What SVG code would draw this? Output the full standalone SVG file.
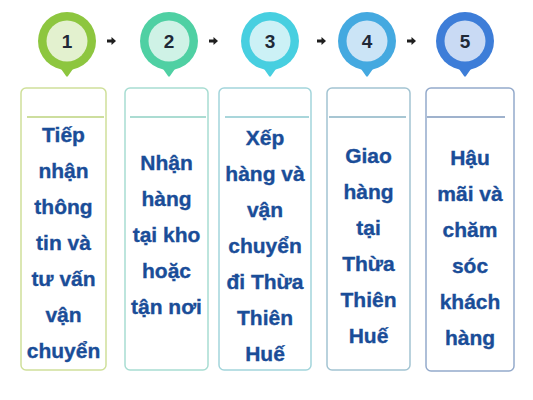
<svg xmlns="http://www.w3.org/2000/svg" width="533" height="400" viewBox="0 0 533 400">
<style>
.num{font-family:"Liberation Sans",Arial,sans-serif;font-weight:bold;font-size:19px;fill:#1f2937;text-anchor:middle}
.lbl{font-family:"Liberation Sans",Arial,sans-serif;font-weight:bold;font-size:21px;fill:#1a4d98;stroke:#1a4d98;stroke-width:0.35;text-anchor:middle}
.box{fill:#fff;stroke-width:1.5}
.div{stroke-width:1.5}
.arr{fill:#1f1f1f}
</style>
<defs>
<path id="arrow" d="M0,-1.5 L4.5,-1.5 L4.5,-4 L9,0 L4.5,4 L4.5,1.5 L0,1.5 Z"/>
</defs>
<rect width="533" height="400" fill="#fff"/>
<g id="connectors">
<use class="arr" href="#arrow" x="107" y="41"/>
<use class="arr" href="#arrow" x="209" y="41"/>
<use class="arr" href="#arrow" x="317" y="41"/>
<use class="arr" href="#arrow" x="407" y="41"/>
</g>
<g id="node1">
<path d="M59,66 L75,66 L68,76 Q67,77.5 66,76 Z" fill="#8dc63f"/>
<circle cx="67" cy="41" r="29" fill="#8dc63f"/>
<circle cx="67" cy="41" r="20.5" fill="#e3f1cf"/>
<text class="num" x="67" y="48">1</text>
<rect class="box" x="21" y="88" width="85" height="282" rx="5" stroke="#cfe09a"/>
<line class="div" x1="27" y1="117" x2="104" y2="117" stroke="#bcd37e"/>
<text class="lbl"><tspan x="63.5" y="142">Tiếp</tspan><tspan x="63.5" y="178">nhận</tspan><tspan x="63.5" y="214">thông</tspan><tspan x="63.5" y="250">tin và</tspan><tspan x="63.5" y="286">tư vấn</tspan><tspan x="63.5" y="322">vận</tspan><tspan x="63.5" y="358">chuyển</tspan></text>
</g>
<g id="node2">
<path d="M161,66 L177,66 L170,76 Q169,77.5 168,76 Z" fill="#4fd0a3"/>
<circle cx="169" cy="41" r="29" fill="#4fd0a3"/>
<circle cx="169" cy="41" r="20.5" fill="#cff2e6"/>
<text class="num" x="169" y="48">2</text>
<rect class="box" x="125" y="88" width="83" height="282" rx="5" stroke="#a8ddd2"/>
<line class="div" x1="130" y1="117" x2="206" y2="117" stroke="#8fd0c3"/>
<text class="lbl"><tspan x="166.5" y="170">Nhận</tspan><tspan x="166.5" y="206">hàng</tspan><tspan x="166.5" y="242">tại kho</tspan><tspan x="166.5" y="278">hoặc</tspan><tspan x="166.5" y="314">tận nơi</tspan></text>
</g>
<g id="node3">
<path d="M262,66 L278,66 L271,76 Q270,77.5 269,76 Z" fill="#47cfe0"/>
<circle cx="270" cy="41" r="29" fill="#47cfe0"/>
<circle cx="270" cy="41" r="20.5" fill="#ccf1f6"/>
<text class="num" x="270" y="48">3</text>
<rect class="box" x="219" y="88" width="92" height="282" rx="5" stroke="#a3d5db"/>
<line class="div" x1="225" y1="117" x2="309" y2="117" stroke="#8cc8cf"/>
<text class="lbl"><tspan x="265" y="145">Xếp</tspan><tspan x="265" y="181">hàng và</tspan><tspan x="265" y="217">vận</tspan><tspan x="265" y="253">chuyển</tspan><tspan x="265" y="289">đi Thừa</tspan><tspan x="265" y="325">Thiên</tspan><tspan x="265" y="361">Huế</tspan></text>
</g>
<g id="node4">
<path d="M359,66 L375,66 L368,76 Q367,77.5 366,76 Z" fill="#44a9e0"/>
<circle cx="367" cy="41" r="29" fill="#44a9e0"/>
<circle cx="367" cy="41" r="20.5" fill="#cbe4f6"/>
<text class="num" x="367" y="48">4</text>
<rect class="box" x="327" y="88" width="83" height="282" rx="5" stroke="#a3c4d2"/>
<line class="div" x1="329" y1="117" x2="406" y2="117" stroke="#8ab3c4"/>
<text class="lbl"><tspan x="368.5" y="163">Giao</tspan><tspan x="368.5" y="199">hàng</tspan><tspan x="368.5" y="235">tại</tspan><tspan x="368.5" y="271">Thừa</tspan><tspan x="368.5" y="307">Thiên</tspan><tspan x="368.5" y="343">Huế</tspan></text>
</g>
<g id="node5">
<path d="M457,66 L473,66 L466,76 Q465,77.5 464,76 Z" fill="#3d7dd8"/>
<circle cx="465" cy="41" r="29" fill="#3d7dd8"/>
<circle cx="465" cy="41" r="20.5" fill="#c9daf4"/>
<text class="num" x="465" y="48">5</text>
<rect class="box" x="426" y="88" width="88" height="283" rx="5" stroke="#94aacb"/>
<line class="div" x1="427" y1="117" x2="505" y2="117" stroke="#7f98bd"/>
<text class="lbl"><tspan x="470" y="165">Hậu</tspan><tspan x="470" y="201">mãi và</tspan><tspan x="470" y="237">chăm</tspan><tspan x="470" y="273">sóc</tspan><tspan x="470" y="309">khách</tspan><tspan x="470" y="345">hàng</tspan></text>
</g>
</svg>
